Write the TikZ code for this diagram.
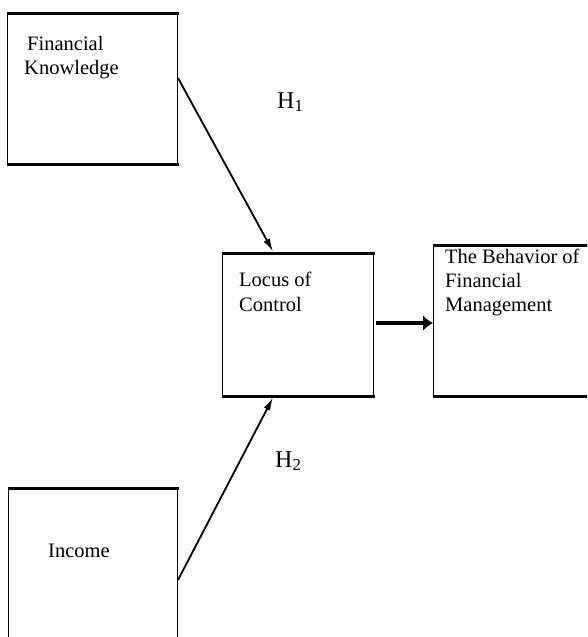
\documentclass[tikz,border=0pt]{standalone}
\usepackage{fontspec}
\setmainfont{Liberation Serif}
\usetikzlibrary{arrows.meta,calc}
\begin{document}
\begin{tikzpicture}[x=1pt,y=-1pt,
  box/.style={draw=black,line width=1pt,inner sep=0pt},
  heavy/.style={line width=3pt,line cap=butt},
  txt/.style={anchor=base west,inner sep=0pt,font=\fontsize{20.5}{24}\selectfont},
  hyp/.style={anchor=base west,inner sep=0pt,font=\fontsize{24}{28}\selectfont},
  conn/.style={line width=1.8pt,-{Latex[length=13pt,width=7pt]}},
  connb/.style={line width=3.3pt,-{Latex[length=10pt,width=16pt]}}]
\useasboundingbox (0,0) rectangle (587,637);
\clip (0,0) rectangle (587,637);
% boxes
\node[box,minimum width=170pt,minimum height=150pt,anchor=north west] (fk) at (7,13) {};
\node[box,minimum width=151pt,minimum height=142pt,anchor=north west] (loc) at (222,253) {};
\node[box,minimum width=170pt,minimum height=150pt,anchor=north west] (beh) at (433,245) {};
\node[box,minimum width=169pt,minimum height=160pt,anchor=north west] (inc) at (8,488) {};
% heavy top / bottom edges
\draw[heavy] ([xshift=-0.5pt]fk.north west) -- ([xshift=0.5pt]fk.north east);
\draw[heavy] ([xshift=-0.5pt]fk.south west) -- ([xshift=0.5pt]fk.south east);
\draw[heavy] ([xshift=-0.5pt]loc.north west) -- ([xshift=0.5pt]loc.north east);
\draw[heavy] ([xshift=-0.5pt]loc.south west) -- ([xshift=0.5pt]loc.south east);
\draw[heavy] ([xshift=-0.5pt]beh.north west) -- ([xshift=0.5pt]beh.north east);
\draw[heavy] ([xshift=-0.5pt]beh.south west) -- ([xshift=0.5pt]beh.south east);
\draw[heavy] ([xshift=-0.5pt]inc.north west) -- ([xshift=0.5pt]inc.north east);
% texts
\node[txt] (fk1) at (27,50) {Financial};
\node[txt] (fk2) at (24,74) {Knowledge};
\node[txt] (loc1) at (239,286) {Locus of};
\node[txt] (loc2) at (239,311) {Control};
\node[txt] (beh1) at (445,263) {The Behavior of};
\node[txt] (beh2) at (445,287) {Financial};
\node[txt] (beh3) at (445,311) {Management};
\node[txt] (inc1) at (48,557) {Income};
\node[hyp] (h1) at (277,108) {H\textsubscript{1}};
\node[hyp] (h2) at (275,467) {H\textsubscript{2}};
% connectors
\coordinate (a1) at ([yshift=-65pt]fk.north east);
\coordinate (b1) at ([xshift=51pt,yshift=1.5pt]loc.north west);
\coordinate (a2) at ([yshift=-92pt]inc.north east);
\coordinate (b2) at ([xshift=51pt,yshift=-1.5pt]loc.south west);
\coordinate (a3) at ([xshift=2pt,yshift=-70pt]loc.north east);
\coordinate (b3) at ([yshift=-78pt]beh.north west);
\draw[conn] (a1) -- (b1);
\draw[conn] (a2) -- (b2);
\draw[connb] (a3) -- (b3);
\end{tikzpicture}
\end{document}
